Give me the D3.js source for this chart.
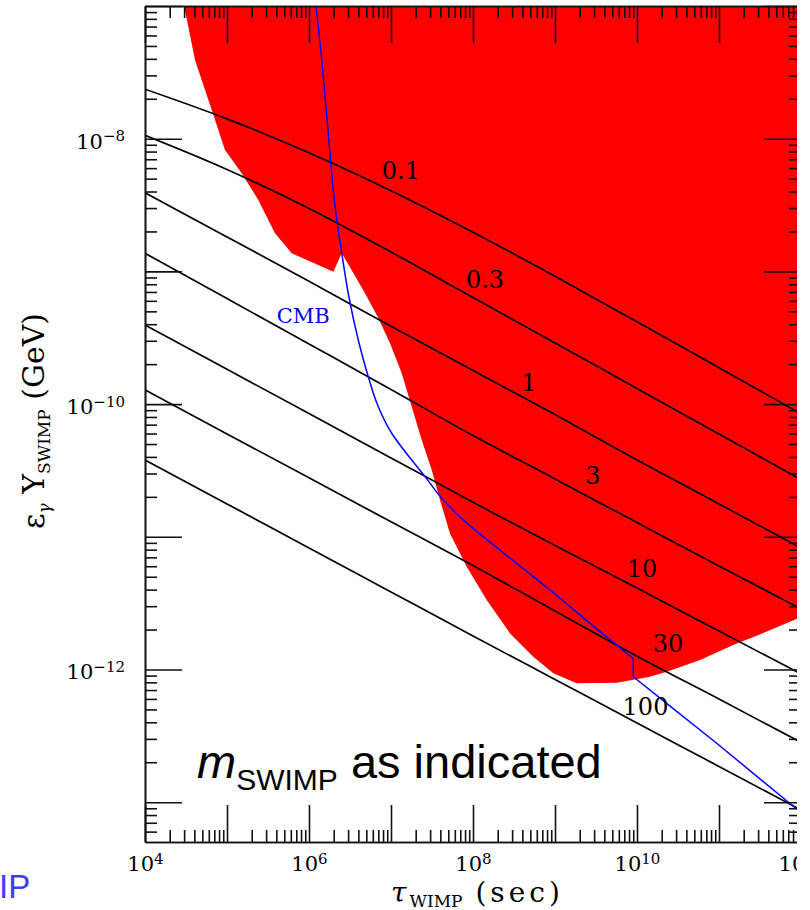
<!DOCTYPE html>
<html>
<head>
<meta charset="utf-8">
<script src="https://cdn.jsdelivr.net/npm/d3@7"></script>
<style>
  body { margin: 0; background: #fff; }
  svg { display: block; }
</style>
</head>
<body>
<div id="d3-container"></div>
<script>
// lifetime grid (sec) used for the mass curves
const tauGrid = [1e4, 1e5, 1e6, 1e7, 1e8, 1e9, 1e10, 1e11, 1e12];

// eps_gamma * Y_SWIMP (GeV) for each SWIMP mass
const massNames = ['0.1', '0.3', '1', '3', '10', '30', '100'];
const yM01 = [2.36e-8, 1.41e-8, 7.83e-9, 4.05e-9, 1.97e-9, 9.19e-10, 4.17e-10, 1.88e-10, 8.45e-11];
const yM03 = [1.06e-8, 5.86e-9, 2.98e-9, 1.40e-9, 6.36e-10, 2.89e-10, 1.31e-10, 5.95e-11, 2.70e-11];
const yM1 = [3.92e-9, 1.82e-9, 8.42e-10, 3.86e-10, 1.79e-10, 8.34e-11, 3.79e-11, 1.77e-11, 8.23e-12];
const yM3 = [1.37e-9, 6.24e-10, 2.84e-10, 1.29e-10, 5.79e-11, 2.73e-11, 1.28e-11, 6.02e-12, 2.86e-12];
const yM10 = [3.95e-10, 1.83e-10, 8.48e-11, 3.93e-11, 1.82e-11, 8.58e-12, 4.11e-12, 1.95e-12, 9.25e-13];
const yM30 = [1.28e-10, 5.96e-11, 2.78e-11, 1.30e-11, 6.08e-12, 2.76e-12, 1.26e-12, 5.99e-13, 2.82e-13];
const yM100 = [3.79e-11, 1.77e-11, 8.23e-12, 3.84e-12, 1.79e-12, 8.41e-13, 3.95e-13, 1.86e-13, 8.73e-14];

// where the mass labels sit (data coords)
const labelTau = [1.32e7, 1.40e8, 4.82e8, 2.90e9, 1.15e10, 2.39e10, 1.27e10];
const labelY = [4.97e-9, 7.49e-10, 1.26e-10, 2.50e-11, 4.98e-12, 1.35e-12, 4.54e-13];

// excluded region (red)
const redTau = [2.99e4, 3.44e4, 4.07e4, 6.51e4, 9.45e4, 1.51e5, 2.41e5, 3.85e5, 6.15e5, 1.98e6,
  2.51e6, 3.32e6, 4.82e6, 7.00e6, 9.72e6, 1.17e7, 1.35e7, 1.79e7, 2.37e7, 3.14e7,
  3.96e7, 5.24e7, 8.38e7, 1.47e8, 2.83e8, 5.44e8, 9.54e8, 1.84e9, 5.65e9, 1.44e10,
  2.30e10, 5.87e10, 1.49e11, 3.82e11, 1e12, 1e12];
const redY = [1e-7, 6.59e-8, 3.92e-8, 1.65e-8, 8.22e-9, 5.49e-9, 3.45e-9, 1.94e-9, 1.37e-9, 9.95e-10,
  1.37e-9, 1.02e-9, 6.84e-10, 4.46e-10, 2.87e-10, 2.15e-10, 1.71e-10, 9.56e-11, 5.36e-11, 3.19e-11,
  1.89e-11, 1.06e-11, 5.95e-12, 3.34e-12, 1.87e-12, 1.25e-12, 9.36e-13, 7.87e-13, 7.95e-13, 8.82e-13,
  9.62e-13, 1.18e-12, 1.53e-12, 1.93e-12, 2.49e-12, 1e-7];

// CMB bound (blue); the vertical step sits at 9e9 s
const cmbTau = [1.22e6, 1.43e6, 1.69e6, 2.18e6, 2.51e6, 3.01e6, 3.99e6, 5.28e6, 7.00e6, 1.02e7,
  1.79e7, 2.60e7, 4.35e7, 7.62e7, 2.13e8, 8.69e8, 3.54e9, 9.0e9, 9.0e9, 2.30e10,
  9.37e10, 7.71e11, 1e12];
const cmbY = [1e-7, 3.92e-8, 1.23e-8, 2.44e-9, 1.37e-9, 6.84e-10, 3.04e-10, 1.61e-10, 9.56e-11, 6.03e-11,
  3.79e-11, 2.84e-11, 1.89e-11, 1.34e-11, 7.95e-12, 3.97e-12, 1.93e-12, 1.21e-12, 8.82e-13, 5.56e-13,
  2.78e-13, 9.53e-14, 8.43e-14];

const xExpLabels = [4, 6, 8, 10, 12];
const yExpLabels = [-8, -10, -12];

const serif = 'DejaVu Serif';

const plotLeft = 145, plotRight = 801, plotTop = 6, plotBottom = 842;

const x = d3.scaleLog().domain([1e4, 1e12]).range([plotLeft, plotRight]);
const y = d3.scaleLog().domain([Math.pow(10, -13.3), 1e-7]).range([plotBottom, plotTop]);

const svg = d3.select('#d3-container')
  .append('svg')
  .attr('width', 797)
  .attr('height', 910)
  .style('overflow', 'hidden');

svg.append('defs').append('clipPath').attr('id', 'plot-clip')
  .append('rect')
  .attr('x', plotLeft).attr('y', plotTop)
  .attr('width', plotRight - plotLeft).attr('height', plotBottom - plotTop);

const plot = svg.append('g').attr('clip-path', 'url(#plot-clip)');

// red excluded area
const redPts = redTau.map((t, i) => [t, redY[i]]);
plot.append('path')
  .attr('d', d3.line().x(d => x(d[0])).y(d => y(d[1]))(redPts) + 'Z')
  .attr('fill', '#ff0000')
  .attr('stroke', 'none');

// mass lines
const massSeries = [yM01, yM03, yM1, yM3, yM10, yM30, yM100];
const massLine = d3.line()
  .x(d => x(d[0]))
  .y(d => y(d[1]))
  .curve(d3.curveMonotoneX);

massSeries.forEach(function(s) {
  plot.append('path')
    .attr('d', massLine(tauGrid.map((t, i) => [t, s[i]])))
    .attr('fill', 'none')
    .attr('stroke', '#000')
    .attr('stroke-width', 1.7);
});

// CMB line: smooth part down to the step, straight after it
const cmbPts = cmbTau.map((t, i) => [t, cmbY[i]]);
const stepIdx = 17;
const cmbSmooth = d3.line().x(d => x(d[0])).y(d => y(d[1])).curve(d3.curveMonotoneY);
const cmbStraight = d3.line().x(d => x(d[0])).y(d => y(d[1]));
plot.append('path')
  .attr('d', cmbSmooth(cmbPts.slice(0, stepIdx + 1)) + cmbStraight(cmbPts.slice(stepIdx)).replace(/^M/, 'L'))
  .attr('fill', 'none')
  .attr('stroke', '#0000ff')
  .attr('stroke-width', 1.5);

// mass labels
svg.selectAll('.mlabel')
  .data(massNames)
  .enter().append('text')
  .attr('class', 'mlabel')
  .attr('x', (d, i) => x(labelTau[i]))
  .attr('y', (d, i) => y(labelY[i]))
  .attr('text-anchor', 'middle')
  .attr('font-family', serif)
  .attr('font-size', 24)
  .attr('fill', '#000')
  .text(d => d);

svg.append('text')
  .attr('x', x(8.51e5))
  .attr('y', y(4.08e-10))
  .attr('text-anchor', 'middle')
  .attr('font-family', serif)
  .attr('font-size', 21)
  .attr('fill', '#0000ff')
  .text('CMB');

// ticks
const xMajor = d3.range(4, 13).map(e => Math.pow(10, e));
const xMinor = [];
d3.range(4, 12).forEach(e => d3.range(2, 10).forEach(m => xMinor.push(m * Math.pow(10, e))));
const yMajor = d3.range(-13, -6).map(e => Math.pow(10, e));
const yMinor = [];
d3.range(-14, -7).forEach(e => d3.range(2, 10).forEach(m => {
  const v = m * Math.pow(10, e);
  if (v >= y.domain()[0] && v <= 1e-7) yMinor.push(v);
}));

function styleAxis(g) {
  g.attr('font-family', serif).attr('font-size', 21);
  g.select('.domain').attr('stroke', '#111').attr('stroke-width', 1.6);
  g.selectAll('.tick line').attr('stroke', '#111').attr('stroke-width', 1.6);
}

function powLabel(textSel, exps) {
  textSel.each(function(d) {
    const e = Math.round(Math.log10(d));
    const t = d3.select(this);
    t.text('');
    if (exps.indexOf(e) < 0) return;
    t.append('tspan').text('10');
    t.append('tspan')
      .attr('dy', '-0.5em')
      .attr('font-size', 15)
      .text(e < 0 ? '\u2212' + (-e) : String(e));
  });
}

// bottom
const gxMinor = svg.append('g').attr('transform', `translate(0,${plotBottom})`)
  .call(d3.axisBottom(x).tickValues(xMinor).tickSize(-12).tickSizeOuter(0).tickFormat(''));
styleAxis(gxMinor);
const gx = svg.append('g').attr('transform', `translate(0,${plotBottom})`)
  .call(d3.axisBottom(x).tickValues(xMajor).tickSize(-37).tickSizeOuter(0).tickPadding(14));
styleAxis(gx);
gx.selectAll('.tick text').attr('fill', '#000').attr('dy', '0.72em').call(powLabel, xExpLabels);

// top
const gtMinor = svg.append('g').attr('transform', `translate(0,${plotTop})`)
  .call(d3.axisTop(x).tickValues(xMinor).tickSize(-12).tickSizeOuter(0).tickFormat(''));
styleAxis(gtMinor);
const gt = svg.append('g').attr('transform', `translate(0,${plotTop})`)
  .call(d3.axisTop(x).tickValues(xMajor).tickSize(-37).tickSizeOuter(0).tickFormat(''));
styleAxis(gt);

// left
const gyMinor = svg.append('g').attr('transform', `translate(${plotLeft},0)`)
  .call(d3.axisLeft(y).tickValues(yMinor).tickSize(-12).tickSizeOuter(0).tickFormat(''));
styleAxis(gyMinor);
const gy = svg.append('g').attr('transform', `translate(${plotLeft},0)`)
  .call(d3.axisLeft(y).tickValues(yMajor).tickSize(-37).tickSizeOuter(0).tickPadding(20));
styleAxis(gy);
gy.selectAll('.tick text').attr('fill', '#000').attr('dy', '0.45em').call(powLabel, yExpLabels);

// right
const grMinor = svg.append('g').attr('transform', `translate(${plotRight},0)`)
  .call(d3.axisRight(y).tickValues(yMinor).tickSize(-12).tickSizeOuter(0).tickFormat(''));
styleAxis(grMinor);
const gr = svg.append('g').attr('transform', `translate(${plotRight},0)`)
  .call(d3.axisRight(y).tickValues(yMajor).tickSize(-37).tickSizeOuter(0).tickFormat(''));
styleAxis(gr);

// axis titles
const xt = svg.append('text')
  .attr('x', 391)
  .attr('y', 902)
  .attr('font-family', serif)
  .attr('font-size', 28)
  .attr('fill', '#000');
xt.append('tspan').attr('font-style', 'italic').text('\u03c4');
xt.append('tspan').attr('font-size', 17).attr('dy', 5).attr('dx', 3).text('WIMP');
xt.append('tspan').attr('dy', -5).attr('letter-spacing', 4).text(' (sec)');

const yt = svg.append('text')
  .attr('transform', 'translate(44,421) rotate(-90)')
  .attr('text-anchor', 'middle')
  .attr('font-family', serif)
  .attr('font-size', 30)
  .attr('fill', '#000');
yt.append('tspan').text('\u03b5');
yt.append('tspan').attr('font-size', 17).attr('dy', 6).attr('font-style', 'italic').text('\u03b3');
yt.append('tspan').attr('dy', -6).text(' Y');
yt.append('tspan').attr('font-size', 17).attr('dy', 6).text('SWIMP');
yt.append('tspan').attr('dy', -6).text(' (GeV)');

// annotation
const note = svg.append('text')
  .attr('x', 197)
  .attr('y', 778)
  .attr('font-family', 'Liberation Sans, Arial, sans-serif')
  .attr('font-size', 47)
  .attr('fill', '#000');
note.append('tspan').attr('font-style', 'italic').text('m');
note.append('tspan').attr('font-size', 30).attr('dy', 12).text('SWIMP');
note.append('tspan').attr('dy', -12).text(' as indicated');

// leftover label at the lower left edge
svg.append('text')
  .attr('x', -1)
  .attr('y', 898)
  .attr('font-family', 'Liberation Sans, Arial, sans-serif')
  .attr('font-size', 33)
  .attr('fill', '#3c3cff')
  .text('IP');
</script>
</body>
</html>
